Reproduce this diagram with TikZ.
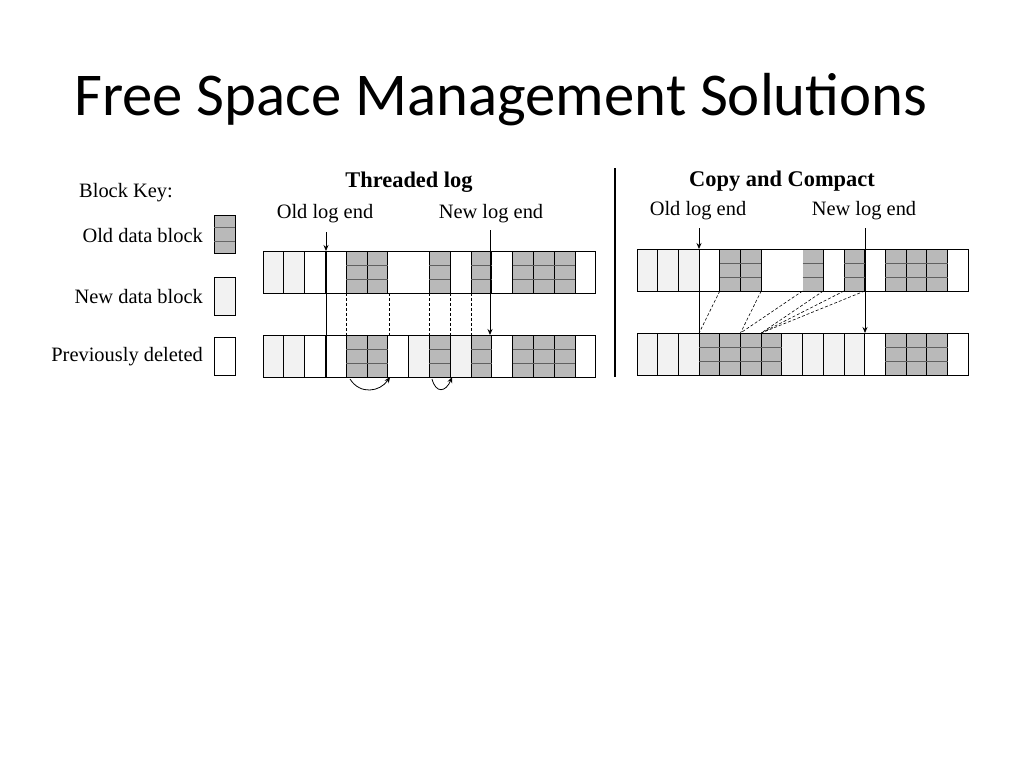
\documentclass[tikz,border=0pt]{standalone}
\usepackage{fontspec}
\setmainfont{Liberation Serif}
\newfontfamily\titlefont{Carlito}
\usetikzlibrary{arrows.meta}
\tikzset{
 cellw/.style={draw,line width=0.9pt,fill=white},
 celll/.style={draw,line width=0.9pt,fill=gray!10},
 celld/.style={draw,line width=0.9pt,fill=gray!55},
 lbl/.style={font=\fontsize{20.5}{23}\selectfont,inner sep=0pt},
 hdr/.style={font=\bfseries\fontsize{22.5}{25}\selectfont,inner sep=0pt},
 logarrow/.style={line width=0.8pt,-{Stealth[length=6pt,width=5pt]}},
 dsh/.style={densely dashed,line width=0.6pt}
}
\begin{document}
\begin{tikzpicture}[x=1bp,y=-1bp]
\useasboundingbox (0,0) rectangle (1024,768);
\node[font=\titlefont\fontsize{61}{68}\selectfont,anchor=west,inner sep=0pt] (title) at (74,100) {Free Space Management Solutions};
% key
\node[lbl,anchor=west] (bk) at (79,193) {Block Key:};
\node[lbl,anchor=east] (ko) at (203,236) {Old data block};
\node[lbl,anchor=east] (kn) at (203,297) {New data block};
\node[lbl,anchor=east] (kp) at (203,357) {Previously deleted};
\node[celld,minimum width=21bp,minimum height=38bp,inner sep=0pt] (bo) at (224.5,234) {};
\draw[gray!80!black] (214,227) -- (235,227) (214,241) -- (235,241);
\node[celll,minimum width=21bp,minimum height=38bp,inner sep=0pt] (bn) at (224.5,296) {};
\node[cellw,minimum width=21bp,minimum height=38bp,inner sep=0pt] (bp) at (224.5,356) {};
% separator
\draw[line width=1.2pt] (615,168) -- (615,377);
% threaded log
\node[hdr] (th) at (409,182) {Threaded log};
\node[lbl] (tol) at (325,214) {Old log end};
\node[lbl] (tnl) at (491,214) {New log end};
\foreach \y/\L in {251/{celll,celll,cellw,cellw,celld,celld,cellw,cellw,celld,cellw,celld,cellw,celld,celld,celld,cellw},
                   335/{celll,celll,cellw,cellw,celld,celld,cellw,celll,celld,celll,celld,cellw,celld,celld,celld,cellw}}{
  \foreach \t [count=\i from 0] in \L {
    \pgfmathsetmacro{\xa}{263+20.8*\i}
    \path[\t] (\xa,\y) rectangle ++(20.8,42);
  }
  \draw[line width=1pt] (263,\y) rectangle ++(332.8,42);
}
\fill[white] (389,252) rectangle (429,292.5);
\draw[line width=1pt] (388,251) -- (429,251) (388,293) -- (429,293);
\foreach \i in {4,5,8,10,12,13,14}{
  \pgfmathsetmacro{\xa}{263+20.8*\i}
  \draw[gray!75!black,line width=0.5pt] (\xa,265) -- ++(20.8,0) (\xa,279) -- ++(20.8,0) (\xa,349) -- ++(20.8,0) (\xa,363) -- ++(20.8,0);
}
\coordinate (tot) at (326,232);
\coordinate (toa) at (326,251);
\coordinate (tob) at (326,377);
\draw[logarrow] (tot) -- (toa);
\draw[line width=0.8pt] (toa) -- (tob);
\coordinate (tnt) at (490,230);
\coordinate (tna) at (490,335);
\draw[logarrow] (tnt) -- (tna);
\foreach \x in {346.2,388.8,429.4,450.2,471}{ \draw[dsh] (\x,293) -- (\x,335); }
\coordinate (ca1) at (350,379);
\coordinate (cb1) at (390,377);
\draw[logarrow] (ca1) .. controls (360,395) and (380,392) .. (cb1);
\coordinate (ca2) at (432,379);
\coordinate (cb2) at (452,377);
\draw[logarrow] (ca2) .. controls (436,394) and (446,392) .. (cb2);
% copy and compact
\node[hdr] (ch) at (782,181) {Copy and Compact};
\node[lbl] (col) at (698,211) {Old log end};
\node[lbl] (cnl) at (864,211) {New log end};
\foreach \y/\L in {249/{celll,celll,celll,cellw,celld,celld,cellw,cellw,celld,cellw,celld,cellw,celld,celld,celld,cellw},
                   333/{celll,celll,celll,celld,celld,celld,celld,celll,celll,celll,celll,cellw,celld,celld,celld,cellw}}{
  \foreach \t [count=\i from 0] in \L {
    \pgfmathsetmacro{\xa}{637+20.7*\i}
    \path[\t] (\xa,\y) rectangle ++(20.7,42);
  }
  \draw[line width=1pt] (637,\y) rectangle ++(331.2,42);
}
\fill[white] (762,250) rectangle (802.5,290.5);
\draw[line width=1pt] (761,249) -- (803,249) (761,291) -- (803,291);
\foreach \i in {4,5,8,10,12,13,14}{
  \pgfmathsetmacro{\xa}{637+20.7*\i}
  \draw[gray!75!black,line width=0.5pt] (\xa,263) -- ++(20.7,0) (\xa,277) -- ++(20.7,0);
}
\foreach \i in {3,4,5,6,12,13,14}{
  \pgfmathsetmacro{\xa}{637+20.7*\i}
  \draw[gray!75!black,line width=0.5pt] (\xa,347) -- ++(20.7,0) (\xa,361) -- ++(20.7,0);
}
\coordinate (cot) at (699,228);
\coordinate (coa) at (699,249);
\coordinate (cob) at (699,333);
\draw[logarrow] (cot) -- (coa);
\draw[line width=0.8pt] (coa) -- (cob);
\coordinate (cnt) at (865,228);
\coordinate (cna) at (865,333);
\draw[logarrow] (cnt) -- (cna);
\foreach \a/\b in {4/3,6/5,8/5,9/6,10/6,11/6}{
  \draw[dsh] (637+20.7*\a,291) -- (637+20.7*\b,333);
}
\end{tikzpicture}
\end{document}
